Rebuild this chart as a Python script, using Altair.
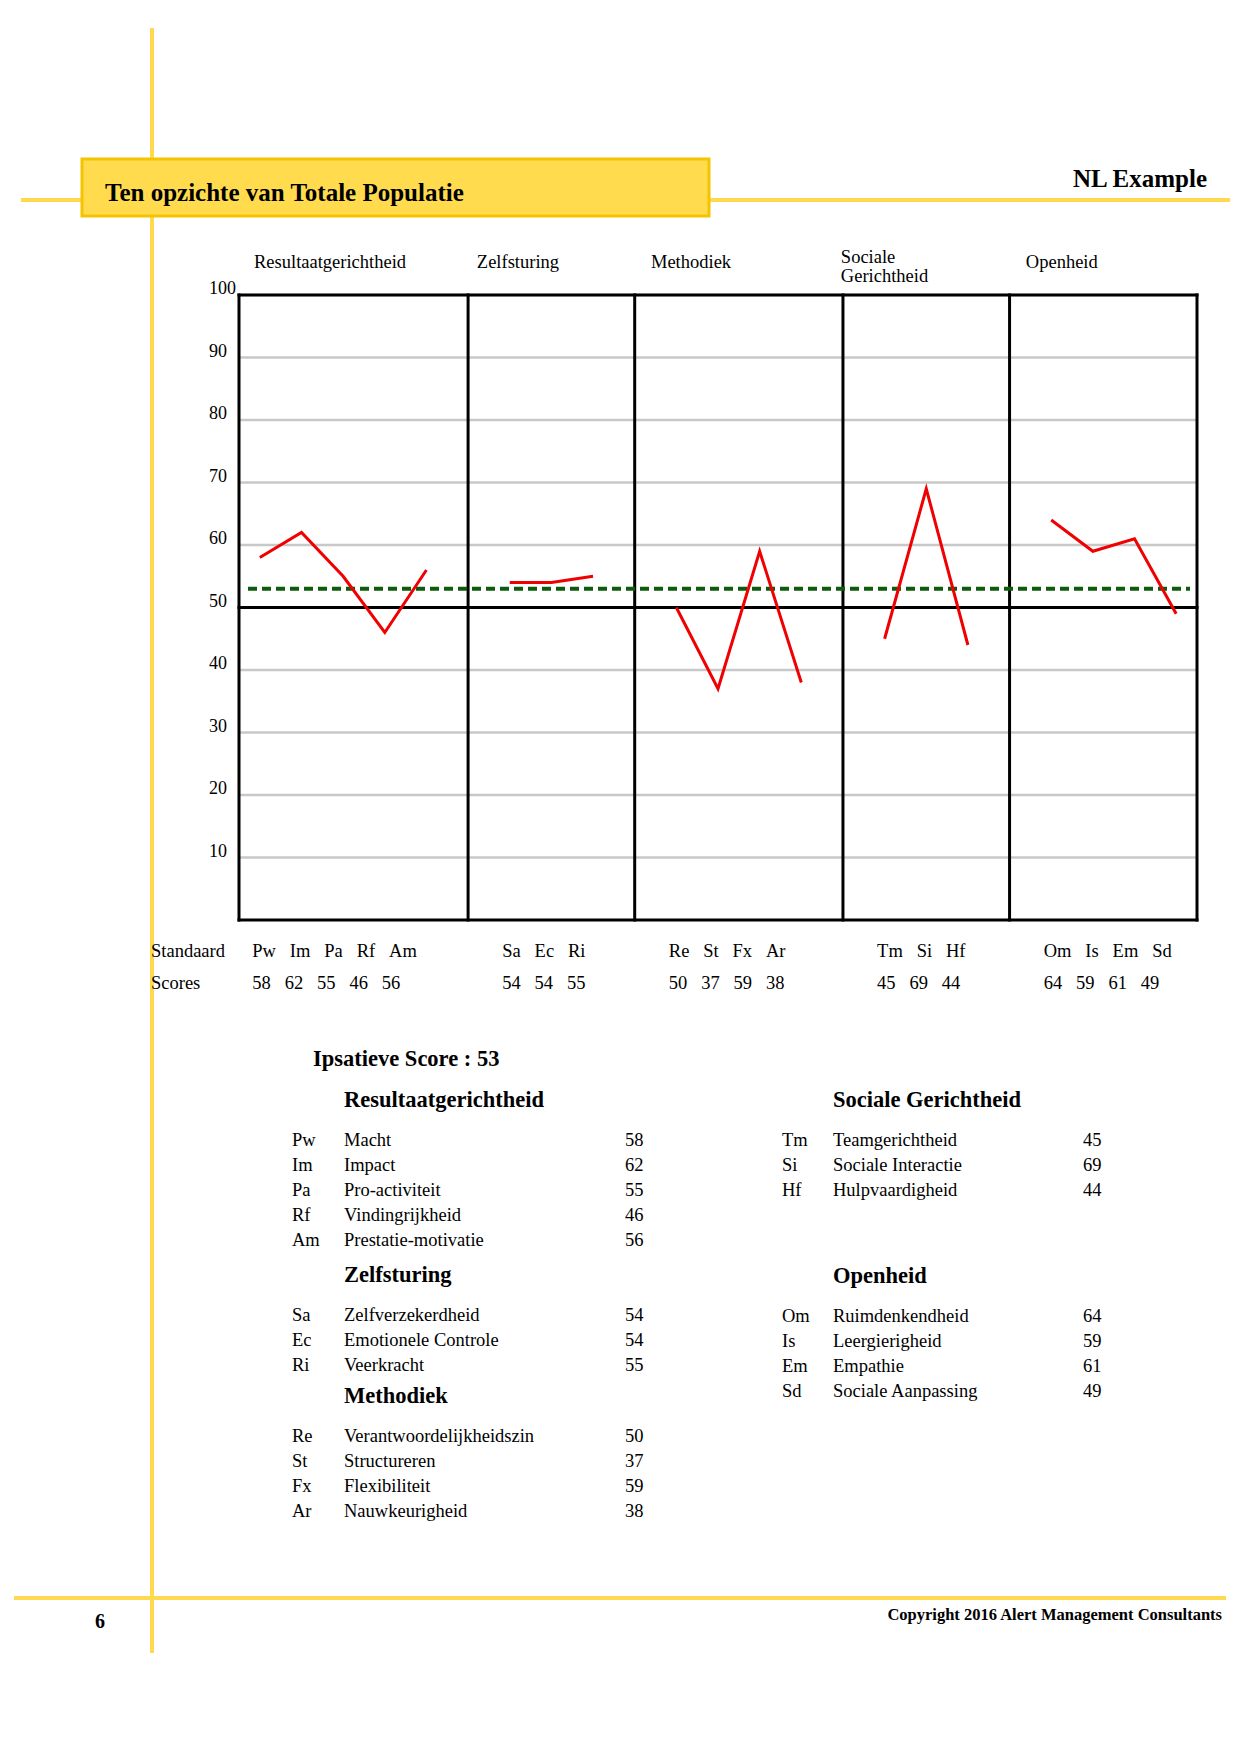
import altair as alt
import pandas as pd

# ---------------- data ----------------
GROUPS = ["Resultaatgerichtheid", "Zelfsturing", "Methodiek", "Sociale Gerichtheid", "Openheid"]
GROUP_TITLES = ["Resultaatgerichtheid", "Zelfsturing", "Methodiek", "Sociale\n\u00a0Gerichtheid", "Openheid"]
CODES = [["Pw", "Im", "Pa", "Rf", "Am"],
         ["Sa", "Ec", "Ri"],
         ["Re", "St", "Fx", "Ar"],
         ["Tm", "Si", "Hf"],
         ["Om", "Is", "Em", "Sd"]]
NAMES = [["Macht", "Impact", "Pro-activiteit", "Vindingrijkheid", "Prestatie-motivatie"],
         ["Zelfverzekerdheid", "Emotionele Controle", "Veerkracht"],
         ["Verantwoordelijkheidszin", "Structureren", "Flexibiliteit", "Nauwkeurigheid"],
         ["Teamgerichtheid", "Sociale Interactie", "Hulpvaardigheid"],
         ["Ruimdenkendheid", "Leergierigheid", "Empathie", "Sociale Aanpassing"]]
SCORES = [[58, 62, 55, 46, 56],
          [54, 54, 55],
          [50, 37, 59, 38],
          [45, 69, 44],
          [64, 59, 61, 49]]
IPSATIVE = 53
Y_TICKS = [10, 20, 30, 40, 50, 60, 70, 80, 90, 100]

PAGE_TITLE = "Ten opzichte van Totale Populatie"
PAGE_NAME = "NL Example"
ROW_LABELS = ["Standaard", "Scores"]
IPS_LABEL = "Ipsatieve Score : "
PAGE_NUMBER = "6"
COPYRIGHT = "Copyright 2016 Alert Management Consultants"

# ---------------- layout ----------------
OX, OY = 239, 295          # plot origin on the page
W, H = 958, 625            # plot area
FONT = "Liberation Serif"
YELLOW = "#FFD94F"
RED = "#F00000"
GREEN = "#0D5C0D"
GRID = "#C8C8C8"
SP = "\u00a0" * 3


def px(v):
    return v - OX


def py(v):
    return v - OY


# slot positions (one empty slot between groups)
starts, s = [], 0
for g in CODES:
    starts.append(s)
    s += len(g) + 1
n_slots = s - 1
XSCALE = alt.Scale(domain=[-0.5, n_slots - 0.5], nice=False, zero=False)
YSCALE = alt.Scale(domain=[0, 100], nice=False, zero=False)

rows = []
for gi, g in enumerate(GROUPS):
    for j, (c, v) in enumerate(zip(CODES[gi], SCORES[gi])):
        rows.append({"group": g, "code": c, "slot": starts[gi] + j, "score": v})
points = pd.DataFrame(rows)

bounds = [-0.5] + [st - 1 for st in starts[1:]] + [n_slots - 0.5]
vlines = pd.DataFrame({"b": bounds})
hlines = pd.DataFrame({"h": [0, 50, 100]})
ticks = pd.DataFrame({"t": Y_TICKS, "lab": [str(t) for t in Y_TICKS]})

label_rows = pd.DataFrame({
    "lx": [st - 0.18 for st in starts],
    "codes": [SP.join(c) for c in CODES],
    "scores": [SP.join(str(v) for v in sc) for sc in SCORES],
})

DUMMY = pd.DataFrame({"d": [0]})


def txt(text, x, y, size, bold=False, align="left", lh=None):
    kw = dict(text=text, align=align, baseline="alphabetic", font=FONT,
              fontSize=size, fontWeight="bold" if bold else "normal",
              color="black", lineBreak="\n")
    if lh is not None:
        kw["lineHeight"] = lh
    return alt.Chart(DUMMY).mark_text(**kw).encode(x=alt.value(x), y=alt.value(y))


def hrule(x1, x2, y, color, w):
    return alt.Chart(DUMMY).mark_rule(color=color, strokeWidth=w).encode(
        x=alt.value(x1), x2=alt.value(x2), y=alt.value(y))


layers = []

# page decoration
layers.append(alt.Chart(DUMMY).mark_rule(color=YELLOW, strokeWidth=4).encode(
    x=alt.value(px(152)), y=alt.value(py(28)), y2=alt.value(py(1653))))
layers.append(hrule(px(21), px(1230), py(200), YELLOW, 4))
layers.append(hrule(px(14), px(1226), py(1598), YELLOW, 4))
layers.append(alt.Chart(DUMMY).mark_rect(fill="#FFDB4D", stroke="#F5C400", strokeWidth=3).encode(
    x=alt.value(px(82)), x2=alt.value(px(709)), y=alt.value(py(159)), y2=alt.value(py(216))))
layers.append(txt(PAGE_TITLE, px(105), py(201), 25, bold=True))
layers.append(txt(PAGE_NAME, px(1207), py(187), 25, bold=True, align="right"))

# gridlines and y labels
layers.append(alt.Chart(ticks).mark_rule(color=GRID, strokeWidth=2.5).encode(
    y=alt.Y("t:Q", scale=YSCALE, axis=None)))
layers.append(alt.Chart(ticks).mark_text(
    align="left", baseline="alphabetic", font=FONT, fontSize=18, color="black", dy=-1).encode(
    y=alt.Y("t:Q", scale=YSCALE, axis=None), x=alt.value(px(209)), text="lab:N"))

# frame
layers.append(alt.Chart(hlines).mark_rule(color="black", strokeWidth=3, strokeCap="square").encode(
    y=alt.Y("h:Q", scale=YSCALE, axis=None)))
layers.append(alt.Chart(vlines).mark_rule(color="black", strokeWidth=3, strokeCap="square").encode(
    x=alt.X("b:Q", scale=XSCALE, axis=None)))

# ipsative score dashed line
layers.append(alt.Chart(DUMMY).mark_rule(color=GREEN, strokeWidth=4, strokeDash=[9, 5]).encode(
    y=alt.Y(datum=IPSATIVE, scale=YSCALE, axis=None),
    x=alt.value(9), x2=alt.value(W - 7)))

# profile lines
layers.append(alt.Chart(points).mark_line(color=RED, strokeWidth=3).encode(
    x=alt.X("slot:Q", scale=XSCALE, axis=None),
    y=alt.Y("score:Q", scale=YSCALE, axis=None),
    detail="group:N", order="slot:Q"))

# group titles above the plot
TITLE_OFFSETS = [0.36, 0.21, 0.39, -0.05, 0.39]
TITLE_BASE = [-27, -27, -27, -32, -27]
for gi in range(len(GROUPS)):
    left = -0.5 if gi == 0 else starts[gi] - 1
    layers.append(alt.Chart(pd.DataFrame({"tx": [left + TITLE_OFFSETS[gi]]})).mark_text(
        text=GROUP_TITLES[gi], align="left", baseline="alphabetic", font=FONT,
        fontSize=18.5, color="black", lineBreak="\n", lineHeight=19).encode(
        x=alt.X("tx:Q", scale=XSCALE, axis=None), y=alt.value(TITLE_BASE[gi])))

# code / score rows under the plot
layers.append(txt(ROW_LABELS[0], px(151), py(957), 18.5))
layers.append(txt(ROW_LABELS[1], px(151), py(989), 18.5))
layers.append(alt.Chart(label_rows).mark_text(
    align="left", baseline="alphabetic", font=FONT, fontSize=18.5, color="black").encode(
    x=alt.X("lx:Q", scale=XSCALE, axis=None), y=alt.value(py(957)), text="codes:N"))
layers.append(alt.Chart(label_rows).mark_text(
    align="left", baseline="alphabetic", font=FONT, fontSize=18.5, color="black").encode(
    x=alt.X("lx:Q", scale=XSCALE, axis=None), y=alt.value(py(989)), text="scores:N"))

# score table
layers.append(txt(IPS_LABEL + str(IPSATIVE), px(313), py(1066), 22.5, bold=True))
COLS = {"L": (px(292), px(344), px(625)), "R": (px(782), px(833), px(1083))}
SECTION_POS = [("L", 1107), ("L", 1282), ("L", 1403), ("R", 1107), ("R", 1283)]
for gi, g in enumerate(GROUPS):
    side, hy = SECTION_POS[gi]
    cx, nx, sx = COLS[side]
    layers.append(txt(g, nx, py(hy), 22.5, bold=True))
    ry = py(hy + 39)
    layers.append(txt("\n".join(CODES[gi]), cx, ry, 18.5, lh=25))
    layers.append(txt("\n".join(NAMES[gi]), nx, ry, 18.5, lh=25))
    layers.append(txt("\n".join(str(v) for v in SCORES[gi]), sx, ry, 18.5, lh=25))

# footer
layers.append(txt(PAGE_NUMBER, px(100), py(1628), 20, bold=True, align="center"))
layers.append(txt(COPYRIGHT, px(1222), py(1620), 16.5, bold=True, align="right"))

chart = alt.layer(*layers).properties(
    width=W, height=H,
    autosize=alt.AutoSizeParams(type="none"),
    padding={"left": OX, "top": OY, "right": 1240 - OX - W, "bottom": 1754 - OY - H},
    background="white",
).configure_view(stroke=None)

chart.save("out.html", embed_options={"renderer": "svg", "actions": False})
